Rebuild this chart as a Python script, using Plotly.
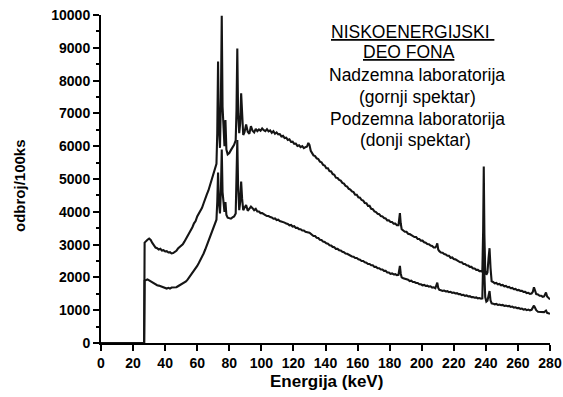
import plotly.graph_objects as go

# Gamma background spectra, energy in keV, counts per 100 ks
energy_kev = [
    0, 26.9, 27.2, 28, 29, 30, 31, 32, 33, 34,
    35, 36, 37, 38, 39, 40, 41, 42, 43, 44,
    45, 46, 47, 48, 49, 50, 51, 52, 53, 54,
    55, 56, 57, 58, 59, 60, 61, 62, 63, 64,
    65, 66, 67, 68, 69, 70, 71, 72, 72.5, 73.0,
    73.5, 74.2, 74.8, 75.3, 75.8, 76.4, 77.0, 77.6, 78.2, 79.0,
    80, 81, 82, 83, 84, 84.5, 85.0, 85.5, 86.2, 86.8,
    87.4, 88.0, 88.7, 89.5, 90.5, 91.5, 92.5, 93.5, 94.5, 95.5,
    96.5, 97.5, 98.5, 99.5, 100.5, 101.5, 102.5, 103.5, 104.5, 105.5,
    106.5, 107.5, 108.5, 109.5, 110.5, 111.5, 112.5, 113.5, 114.5, 115.5,
    116.5, 117.5, 118.5, 119.5, 120.5, 121.5, 122.5, 123.5, 124.5, 125.5,
    126.5, 127.5, 128.5, 129.3, 130.0, 130.8, 131.5, 132.5, 133.5, 134.5,
    135.5, 136.5, 137.5, 138.5, 139.5, 140.5, 141.5, 142.5, 143.5, 144.5,
    145.5, 146.5, 147.5, 148.5, 149.5, 150.5, 151.5, 152.5, 153.5, 154.5,
    155.5, 156.5, 157.5, 158.5, 159.5, 160.5, 161.5, 162.5, 163.5, 164.5,
    165.5, 166.5, 167.5, 168.5, 169.5, 170.5, 171.5, 172.5, 173.5, 174.5,
    175.5, 176.5, 177.5, 178.5, 179.5, 180.5, 181.5, 182.5, 183.5, 184.5,
    185.5, 186.0, 186.4, 186.9, 187.5, 188.5, 189.5, 190.5, 191.5, 192.5,
    193.5, 194.5, 195.5, 196.5, 197.5, 198.5, 199.5, 200.5, 201.5, 202.5,
    203.5, 204.5, 205.5, 206.5, 207.5, 208.5, 209.2, 209.7, 210.3, 211.0,
    212, 213, 214, 215, 216, 217, 218, 219, 220, 221,
    222, 223, 224, 225, 226, 227, 228, 229, 230, 231,
    232, 233, 234, 235, 236, 237, 237.8, 238.3, 238.7, 239.1,
    239.6, 240.3, 241.0, 241.7, 242.3, 242.9, 243.6, 244.5, 245.5, 246.5,
    247.5, 248.5, 249.5, 250.5, 251.5, 252.5, 253.5, 254.5, 255.5, 256.5,
    257.5, 258.5, 259.5, 260.5, 261.5, 262.5, 263.5, 264.5, 265.5, 266.5,
    267.5, 268.5, 269.3, 270.0, 270.6, 271.4, 272.5, 273.5, 274.5, 275.5,
    276.3, 277.0, 277.5, 278.2, 279.0, 280,
]

# Surface laboratory (upper spectrum)
surface_counts = [
    0, 0, 3060, 3110, 3150, 3185, 3140, 3050, 2970, 2910,
    2890, 2850, 2870, 2820, 2830, 2790, 2800, 2760, 2770, 2730,
    2740, 2770, 2810, 2880, 2920, 2970, 3010, 3090, 3170, 3280,
    3350, 3450, 3530, 3650, 3720, 3860, 3950, 4070, 4120, 4260,
    4370, 4530, 4650, 4810, 4970, 5160, 5280, 5460, 6400, 8580,
    6600, 5950, 7500, 9980, 7200, 6250, 6000, 6800, 5900, 5750,
    5790, 5880, 5960, 6040, 6180, 7100, 8980, 7000, 6400, 6700,
    7610, 6800, 6340, 6430, 6660, 6440, 6380, 6610, 6470, 6420,
    6530, 6460, 6510, 6470, 6540, 6490, 6460, 6520, 6450, 6480,
    6410, 6460, 6380, 6420, 6360, 6370, 6300, 6320, 6250, 6260,
    6190, 6210, 6130, 6140, 6070, 6080, 6010, 6030, 5970, 6000,
    5940, 5970, 5990, 6100, 6040, 5860, 5790, 5720, 5700, 5630,
    5610, 5530, 5510, 5430, 5410, 5330, 5330, 5240, 5230, 5150,
    5130, 5040, 5030, 4970, 4950, 4880, 4860, 4790, 4770, 4700,
    4680, 4620, 4600, 4520, 4520, 4440, 4430, 4360, 4340, 4270,
    4260, 4180, 4180, 4090, 4080, 4010, 3990, 3940, 3930, 3870,
    3860, 3810, 3800, 3740, 3740, 3690, 3690, 3640, 3640, 3590,
    3590, 3750, 3960, 3650, 3470, 3430, 3390, 3390, 3330, 3320,
    3290, 3270, 3230, 3230, 3170, 3170, 3120, 3120, 3070, 3060,
    3020, 3010, 2970, 2960, 2910, 2910, 2960, 3040, 2850, 2800,
    2760, 2750, 2710, 2700, 2660, 2660, 2600, 2610, 2560, 2550,
    2520, 2510, 2460, 2460, 2410, 2410, 2370, 2360, 2320, 2320,
    2270, 2270, 2230, 2230, 2190, 2190, 2170, 3400, 5380, 3300,
    2200, 2080, 2150, 2600, 2890, 2300, 1880, 1860, 1820, 1830,
    1790, 1800, 1760, 1770, 1730, 1740, 1700, 1710, 1670, 1680,
    1640, 1650, 1610, 1620, 1590, 1590, 1560, 1560, 1520, 1530,
    1500, 1510, 1560, 1700, 1600, 1490, 1480, 1440, 1440, 1410,
    1420, 1470, 1540, 1420, 1370, 1330,
]

# Underground laboratory (lower spectrum)
underground_counts = [
    0, 0, 1900, 1920, 1940, 1910, 1880, 1850, 1800, 1790,
    1760, 1750, 1730, 1710, 1690, 1680, 1660, 1680, 1660, 1690,
    1690, 1700, 1700, 1730, 1760, 1790, 1810, 1840, 1880, 1930,
    2000, 2060, 2140, 2190, 2270, 2350, 2440, 2530, 2620, 2730,
    2850, 2980, 3120, 3250, 3380, 3510, 3640, 3760, 4300, 5200,
    4300, 3950, 4700, 5900, 4600, 4150, 4000, 4300, 3900, 3820,
    3800, 3790, 3830, 3860, 3950, 4900, 6190, 4800, 4050, 4300,
    4920, 4400, 4050, 4120, 4210, 4030, 4100, 4160, 4110, 4050,
    4090, 4010, 4010, 3960, 3960, 3920, 3900, 3870, 3870, 3840,
    3830, 3790, 3800, 3750, 3760, 3720, 3710, 3680, 3670, 3640,
    3630, 3590, 3600, 3550, 3560, 3510, 3510, 3470, 3470, 3430,
    3430, 3390, 3390, 3370, 3360, 3320, 3310, 3260, 3260, 3210,
    3200, 3150, 3140, 3090, 3080, 3040, 3030, 2980, 2970, 2930,
    2920, 2870, 2870, 2830, 2820, 2780, 2770, 2730, 2720, 2690,
    2680, 2640, 2630, 2590, 2590, 2550, 2540, 2500, 2500, 2460,
    2450, 2410, 2410, 2370, 2370, 2320, 2320, 2280, 2280, 2240,
    2240, 2200, 2200, 2150, 2150, 2110, 2120, 2090, 2100, 2070,
    2080, 2200, 2350, 2120, 2000, 1970, 1960, 1930, 1930, 1890,
    1900, 1860, 1860, 1830, 1830, 1790, 1790, 1760, 1770, 1740,
    1750, 1720, 1730, 1690, 1700, 1670, 1760, 1840, 1680, 1620,
    1610, 1590, 1600, 1570, 1580, 1550, 1560, 1530, 1540, 1510,
    1520, 1490, 1490, 1460, 1470, 1440, 1450, 1420, 1430, 1400,
    1400, 1380, 1390, 1360, 1370, 1350, 1360, 2200, 3300, 2100,
    1400, 1260, 1290, 1450, 1585, 1300, 1210, 1200, 1180, 1190,
    1160, 1170, 1150, 1160, 1130, 1140, 1120, 1130, 1100, 1110,
    1080, 1090, 1060, 1070, 1040, 1050, 1020, 1030, 1000, 1020,
    995, 1010, 1060, 1140, 1080, 1000, 955, 950, 965, 950,
    940, 970, 990, 920, 905, 890,
]

x_ticks = list(range(0, 281, 20))
y_ticks = list(range(0, 10001, 1000))

legend_lines = [
    "<u>NISKOENERGIJSKI&nbsp;</u>",
    "<u>DEO FONA</u>",
    "Nadzemna laboratorija",
    "(gornji spektar)",
    "Podzemna laboratorija",
    "(donji spektar)",
]

FONT = "Liberation Sans, Arial, sans-serif"
INK = "#000000"
TICK_FONT = dict(family=FONT, size=14, color=INK)

fig = go.Figure()
for counts in (surface_counts, underground_counts):
    fig.add_trace(go.Scatter(
        x=energy_kev, y=counts, mode="lines",
        line=dict(color="#151515", width=2.1),
        showlegend=False, hoverinfo="skip",
    ))

axis_common = dict(
    showline=True, linecolor=INK, linewidth=2,
    ticks="outside", ticklen=6, tickwidth=2, tickcolor=INK,
    showgrid=False, zeroline=False, mirror=False, automargin=False,
    tickfont=TICK_FONT,
)

fig.update_xaxes(range=[0, 280], tickvals=x_ticks,
                 ticktext=[f"<b>{v}</b>" for v in x_ticks], **axis_common)
fig.update_yaxes(
    range=[0, 10000], tickvals=y_ticks,
    ticktext=[f"<b>{v}</b>" for v in y_ticks],
    minor=dict(dtick=500, ticks="outside", ticklen=3, tickwidth=2, tickcolor=INK),
    **axis_common,
)

plot_l, plot_r, plot_t, plot_b = 101, 550, 15, 343
W, H = 563, 397
pw, ph = plot_r - plot_l, plot_b - plot_t


def px_to_paper(px, py):
    return (px - plot_l) / pw, (plot_b - py) / ph


annotations = []
centres_y = [32, 52, 75, 97, 119, 140]
centres_x = [412, 409, 417, 417, 417, 415]
for text, cx, cy in zip(legend_lines, centres_x, centres_y):
    ax, ay = px_to_paper(cx, cy)
    annotations.append(dict(
        text=text, x=ax, y=ay, xref="paper", yref="paper",
        xanchor="center", yanchor="middle", showarrow=False,
        font=dict(family=FONT, size=17.5, color=INK),
    ))

# axis titles
tx, ty = px_to_paper(326, 381)
annotations.append(dict(
    text="<b>Energija (keV)</b>", x=tx, y=ty, xref="paper", yref="paper",
    xanchor="center", yanchor="middle", showarrow=False,
    font=dict(family=FONT, size=17, color=INK),
))
tx, ty = px_to_paper(19, 186)
annotations.append(dict(
    text="<b>odbroj/100ks</b>", x=tx, y=ty, xref="paper", yref="paper",
    xanchor="center", yanchor="middle", showarrow=False, textangle=-90,
    font=dict(family=FONT, size=15, color=INK),
))

fig.update_layout(
    width=W, height=H,
    margin=dict(l=plot_l, r=W - plot_r, t=plot_t, b=H - plot_b, pad=0, autoexpand=False),
    paper_bgcolor="white", plot_bgcolor="white",
    annotations=annotations,
)

fig.write_html("out.html", include_plotlyjs=True, full_html=True,
               config={"displayModeBar": False})
